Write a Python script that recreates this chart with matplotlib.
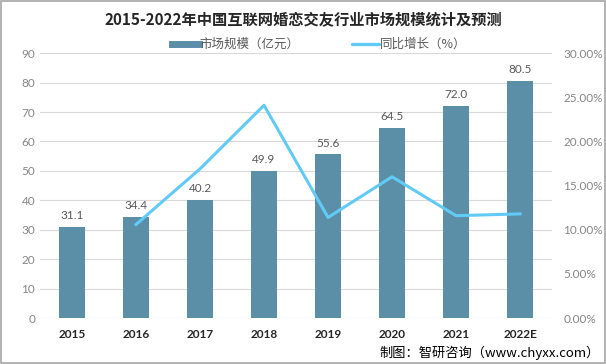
import matplotlib
matplotlib.use("Agg")
from matplotlib import pyplot as plt
from matplotlib.lines import Line2D
from matplotlib.patches import Rectangle
from matplotlib.ticker import FuncFormatter

plt.rcParams["font.family"] = ["Lato", "Noto Sans CJK SC", "DejaVu Sans"]

years = ["2015", "2016", "2017", "2018", "2019", "2020", "2021", "2022E"]
market_size = [31.1, 34.4, 40.2, 49.9, 55.6, 64.5, 72.0, 80.5]
growth_years = ["2016", "2017", "2018", "2019", "2020", "2021", "2022E"]
growth_rate = [10.6, 16.9, 24.1, 11.4, 16.0, 11.6, 11.8]

bar_color = "#5B8FA8"
line_color = "#62CBF5"
tick_color = "#868686"

fig = plt.figure(figsize=(6.06, 3.64), dpi=100)
ax = fig.add_axes([0.066, 0.126, 0.845, 0.728])

x = list(range(len(years)))
ax.bar(x, market_size, width=0.4, color=bar_color, zorder=2)
for xi, v in zip(x, market_size):
    ax.text(xi, v + 2, f"{v:.1f}", ha="center", va="bottom", fontsize=8.5, color="#595959")

ax.set_ylim(0, 90)
ax.set_yticks(range(0, 91, 10))
ax.set_xlim(-0.5, len(years) - 0.5)
ax.set_xticks(x)
ax.set_xticklabels(years, fontsize=8.5, fontweight="bold", color="#262626")
ax.tick_params(axis="y", labelsize=8.5, labelcolor=tick_color, length=0)
ax.tick_params(axis="x", length=0, pad=8)
ax.grid(axis="y", color="#D9D9D9", linewidth=0.8, zorder=0)
for s in ax.spines.values():
    s.set_visible(False)

ax2 = ax.twinx()
gx = [years.index(y) for y in growth_years]
ax2.plot(gx, growth_rate, color=line_color, linewidth=2.2, zorder=3)
ax2.set_ylim(0, 30)
ax2.set_yticks(range(0, 31, 5))
ax2.yaxis.set_major_formatter(FuncFormatter(lambda v, p: f"{v:.2f}%"))
ax2.tick_params(axis="y", labelsize=8.5, labelcolor=tick_color, length=0, pad=8)
for s in ax2.spines.values():
    s.set_visible(False)

handles = [Line2D([], [], color=bar_color, linewidth=5),
           Line2D([], [], color=line_color, linewidth=2.4, solid_capstyle="round")]
fig.legend(handles, ["市场规模（亿元）", "同比增长（%）"], loc="center",
           bbox_to_anchor=(0.527, 0.878), ncol=2, frameon=False,
           columnspacing=4.2, handlelength=2.1, handletextpad=0.1,
           labelcolor="#595959", prop={"family": ["Noto Sans CJK SC"], "size": 9})

fig.text(0.5, 0.945, "2015-2022年中国互联网婚恋交友行业市场规模统计及预测", ha="center", va="center",
         fontsize=11, fontweight="bold", color="#262626", family=["Noto Sans CJK SC"])
fig.text(0.99, 0.032, "制图：智研咨询（www.chyxx.com）", ha="right", va="center",
         fontsize=9.5, color="#000000", family=["Noto Sans CJK SC"])

fig.patches.append(Rectangle((0.001, 0.002), 0.997, 0.995, transform=fig.transFigure,
                             fill=False, edgecolor="#A6A6A6", linewidth=1.2))

fig.savefig("out.png", dpi=100)
